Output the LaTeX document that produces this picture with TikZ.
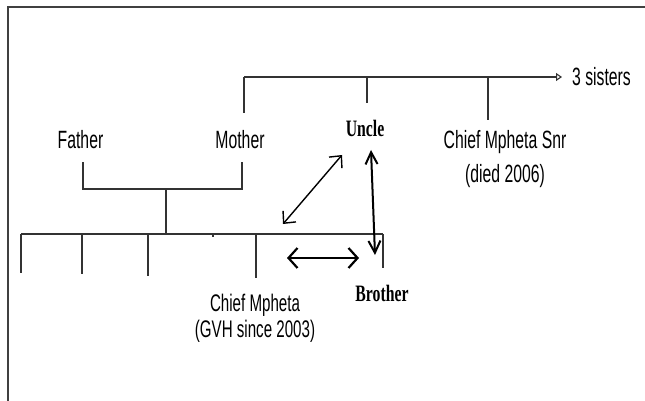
\documentclass[tikz,border=0pt]{standalone}
\usepackage{fontspec}
\usetikzlibrary{arrows.meta}
\newfontfamily\namefont{Liberation Sans}[FakeStretch=0.63]
\newfontfamily\kinfont{Liberation Serif}[FakeStretch=0.67]
\begin{document}
\begin{tikzpicture}[x=1pt,y=-1pt,
  frame/.style={line width=2pt, draw=black!75},
  tree/.style={line width=1.1pt, draw=black!80},
  person/.style={font=\namefont\fontsize{25}{34}\selectfont, text=black, inner sep=0pt, anchor=base},
  chiefsize/.style={font=\namefont\fontsize{24}{26}\selectfont},
  kin/.style={font=\kinfont\bfseries\fontsize{23.5}{26}\selectfont, text=black, inner sep=0pt, anchor=base},
  thinlink/.style={line width=1.4pt, {Straight Barb[length=9pt,width=17pt]}-{Straight Barb[length=9pt,width=17pt]}},
  flatlink/.style={line width=2.2pt, {Straight Barb[length=9pt,width=20pt]}-{Straight Barb[length=9pt,width=20pt]}},
  uplink/.style={line width=2pt, {Straight Barb[length=12pt,width=12pt]}-{Straight Barb[length=12pt,width=12pt]}},
]
\useasboundingbox (0,0) rectangle (645,401);
\fill[white] (0,0) rectangle (645,401);

% outer frame (top and left edges only)
\draw[frame] (7,7.5) -- (645,7.5);
\draw[frame] (8,6.5) -- (8,401);

% names
\node[person] (father) at (80.5,149) {Father};
\node[person] (mother) at (240,149) {Mother};
\node[kin] (uncle) at (365,136) {Uncle};
\node[person, align=center, anchor=center] (snr) at (505,159.5) {Chief Mpheta Snr\\(died 2006)};
\node[person, anchor=base west] (sisters) at (572,86) {3 sisters};
\node[person, chiefsize, align=center, anchor=center] (chief) at (255,318) {Chief Mpheta\\(GVH since 2003)};
\node[kin] (brother) at (382,301.7) {Brother};

% grandparents' generation
\coordinate (gp) at (244,77);
\draw[tree, -{Triangle[open,length=6pt,width=8pt]}] (gp) -- ([xshift=-10pt]sisters.west |- gp);
\draw[tree] (gp) -- ++(0,36);
\draw[tree] (gp -| uncle) ++(2,0) coordinate (ustub) -- ++(0,26);
\draw[tree] (488,77) coordinate (sstub) -- ++(0,43);

% parents' marriage line
\coordinate (fa) at (83,162);
\coordinate (mo) at (242,162);
\coordinate (mid) at (166,189);
\draw[tree] (fa) -- (fa |- mid) -- (mo |- mid) -- (mo);
\draw[tree] (mid) -- (166,234) coordinate (sib);

% siblings' line and drops
\coordinate (sibL) at (21,234);
\coordinate (sibR) at (383,234);
\draw[tree] (sibL) -- (sibR);
\draw[tree] (sibL) -- ++(0,39);
\draw[tree] (82,234) -- ++(0,40);
\draw[tree] (148,234) -- ++(0,42);
\draw[tree] (213,234) -- ++(0,3);
\draw[tree] (256,234) coordinate (chiefdrop) -- ++(0,44);
\draw[tree] (sibR) -- ++(0,34);

% relationship arrows
\coordinate (d1) at (342,155);
\coordinate (d2) at (283,224);
\coordinate (h1) at (287,258);
\coordinate (h2) at (359,258);
\coordinate (v1) at (371,150);
\coordinate (v2) at (375,255);
\draw[thinlink] (d1) -- (d2);
\draw[flatlink] (h1) -- (h2);
\draw[uplink] (v1) -- (v2);
\end{tikzpicture}
\end{document}
